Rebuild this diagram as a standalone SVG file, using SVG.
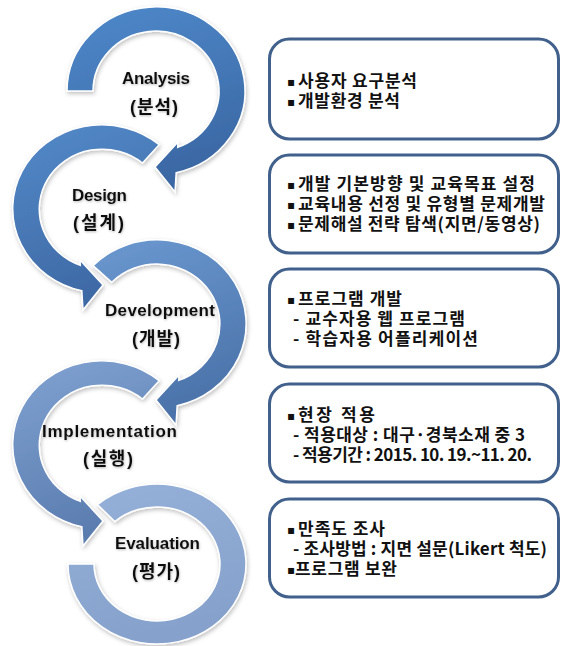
<svg xmlns="http://www.w3.org/2000/svg" width="562" height="646" viewBox="0 0 562 646">
  <style>
    .ring { stroke: #ffffff; stroke-width: 1.5; filter: url(#ringShadow); }
    .label { font-family: "Liberation Sans", "Noto Sans CJK KR", sans-serif; font-weight: bold; font-size: 17px; fill: #111; text-anchor: middle; filter: url(#labelGlow); }
    .ko { font-size: 18px; }
    .box { fill: #ffffff; stroke: #41618c; stroke-width: 3; }
    .item { font-family: "Noto Sans CJK KR", "Liberation Sans", sans-serif; font-weight: bold; font-size: 17px; fill: #111; }
    .bul { font-family: "DejaVu Sans", sans-serif; font-size: 12px; fill: #111; }
  </style>
  <defs>
    <filter id="ringShadow" x="-20%" y="-20%" width="140%" height="140%">
      <feDropShadow dx="1" dy="2" stdDeviation="2" flood-color="#000" flood-opacity="0.25"/>
    </filter>
    <filter id="labelGlow" x="-10%" y="-30%" width="120%" height="160%">
      <feDropShadow dx="0.5" dy="1" stdDeviation="1" flood-color="#666" flood-opacity="0.45"/>
    </filter>
    <linearGradient id="gA" x1="0" y1="0" x2="0.3" y2="1">
      <stop offset="0" stop-color="#4f89cb"/>
      <stop offset="1" stop-color="#3b68a4"/>
    </linearGradient>
    <linearGradient id="gD" x1="0" y1="0" x2="0.3" y2="1">
      <stop offset="0" stop-color="#548ac9"/>
      <stop offset="1" stop-color="#3e69a5"/>
    </linearGradient>
    <linearGradient id="gV" x1="0" y1="0" x2="0.3" y2="1">
      <stop offset="0" stop-color="#6b98d0"/>
      <stop offset="1" stop-color="#4b73aa"/>
    </linearGradient>
    <linearGradient id="gI" x1="0" y1="0" x2="0.3" y2="1">
      <stop offset="0" stop-color="#81a3d2"/>
      <stop offset="1" stop-color="#5a7caf"/>
    </linearGradient>
    <linearGradient id="gE" x1="0" y1="0" x2="0.3" y2="1">
      <stop offset="0" stop-color="#95b1d9"/>
      <stop offset="1" stop-color="#86a2cc"/>
    </linearGradient>
  </defs>

  <rect width="562" height="646" fill="#ffffff"/>

  <!-- cycle stages, drawn bottom-up so each arrowhead sits above the next ring -->
  <g id="evaluation">
    <path class="ring" fill="url(#gE)" transform="translate(157,564)"
          d="M -59.6,-59.4 A 89 80 0 1 1 -89,0 L -63,0 A 63 57 0 1 0 -42.2,-42.4 Z"/>
    <text class="label" x="157.5" y="549" textLength="85" lengthAdjust="spacing">Evaluation</text>
    <text class="label ko" x="156" y="578" textLength="48" lengthAdjust="spacing">(평가)</text>
  </g>

  <g id="implementation">
    <path class="ring" fill="url(#gI)" transform="translate(102,445)"
          d="M 57.2,-64.3 A 89 84 0 1 0 -20.2,81.7 L -19,101 L 1,76 L -22,51 L -21.7,56.4 A 63 60 0 1 1 40.5,-46 Z"/>
    <text class="label" x="109.5" y="437" textLength="135" lengthAdjust="spacing">Implementation</text>
    <text class="label ko" x="108" y="465" textLength="50" lengthAdjust="spacing">(실행)</text>
  </g>

  <g id="development">
    <path class="ring" fill="url(#gV)" transform="translate(157,324)"
          d="M -64,-58.4 A 89 84 0 1 1 20.2,81.7 L 19,101 L -1,76 L 22,51 L 21.7,56.4 A 63 60 0 1 0 -45.3,-41.7 Z"/>
    <text class="label" x="160" y="316" textLength="110" lengthAdjust="spacing">Development</text>
    <text class="label ko" x="156" y="345" textLength="48" lengthAdjust="spacing">(개발)</text>
  </g>

  <g id="design">
    <path class="ring" fill="url(#gD)" transform="translate(102,209)"
          d="M 57.2,-64.3 A 89 84 0 1 0 -20.2,81.7 L -19,101 L 1,76 L -22,51 L -21.7,56.4 A 63 60 0 1 1 40.5,-46 Z"/>
    <text class="label" x="99.5" y="201" textLength="55" lengthAdjust="spacing">Design</text>
    <text class="label ko" x="98.5" y="229" textLength="51" lengthAdjust="spacing">(설계)</text>
  </g>

  <g id="analysis">
    <path class="ring" fill="url(#gA)" transform="translate(156,91)"
          d="M -89,0 A 89 84 0 1 1 20.2,81.7 L 19,101 L -1,76 L 22,51 L 21.7,56.4 A 63 60 0 1 0 -63,0 Z"/>
    <text class="label" x="156" y="84" textLength="68" lengthAdjust="spacing">Analysis</text>
    <text class="label ko" x="154" y="113" textLength="48" lengthAdjust="spacing">(분석)</text>
  </g>

  <!-- detail boxes -->
  <g id="box-analysis">
    <rect class="box" x="269.5" y="39" width="289" height="100" rx="20"/>
    <text class="bul" x="287" y="86">▪</text>
    <text class="item" x="298" y="87" textLength="119" lengthAdjust="spacing">사용자 요구분석</text>
    <text class="bul" x="287" y="106">▪</text>
    <text class="item" x="298" y="107" textLength="102" lengthAdjust="spacing">개발환경 분석</text>
  </g>

  <g id="box-design">
    <rect class="box" x="269.5" y="155" width="289" height="98" rx="20"/>
    <text class="bul" x="287" y="189">▪</text>
    <text class="item" x="298" y="190" textLength="237" lengthAdjust="spacing">개발 기본방향 및 교육목표 설정</text>
    <text class="bul" x="287" y="209">▪</text>
    <text class="item" x="298" y="210" textLength="247" lengthAdjust="spacing">교육내용 선정 및 유형별 문제개발</text>
    <text class="bul" x="287" y="229">▪</text>
    <text class="item" x="298" y="230" textLength="242" lengthAdjust="spacing">문제해설 전략 탐색(지면/동영상)</text>
  </g>

  <g id="box-development">
    <rect class="box" x="269.5" y="269" width="289" height="98" rx="20"/>
    <text class="bul" x="287" y="304">▪</text>
    <text class="item" x="298" y="305" textLength="104" lengthAdjust="spacing">프로그램 개발</text>
    <text class="item" x="293" y="325" textLength="172" lengthAdjust="spacing">- 교수자용 웹 프로그램</text>
    <text class="item" x="293" y="345" textLength="185" lengthAdjust="spacing">- 학습자용 어플리케이션</text>
  </g>

  <g id="box-implementation">
    <rect class="box" x="269.5" y="384" width="289" height="98" rx="20"/>
    <text class="bul" x="287" y="420">▪</text>
    <text class="item" x="298" y="421" textLength="77" lengthAdjust="spacing">현장 적용</text>
    <text class="item" x="293" y="441" textLength="232" lengthAdjust="spacing">- 적용대상 : 대구·경북소재 중 3</text>
    <text class="item" x="293" y="461" textLength="239" lengthAdjust="spacing">- 적용기간 : 2015. 10. 19.~11. 20.</text>
  </g>

  <g id="box-evaluation">
    <rect class="box" x="269.5" y="499" width="289" height="98" rx="20"/>
    <text class="bul" x="287" y="534">▪</text>
    <text class="item" x="298" y="535" textLength="87" lengthAdjust="spacing">만족도 조사</text>
    <text class="item" x="293" y="555" textLength="254" lengthAdjust="spacing">- 조사방법 : 지면 설문(Likert 척도)</text>
    <text class="bul" x="287" y="574">▪</text>
    <text class="item" x="295" y="575" textLength="102" lengthAdjust="spacing">프로그램 보완</text>
  </g>
</svg>
